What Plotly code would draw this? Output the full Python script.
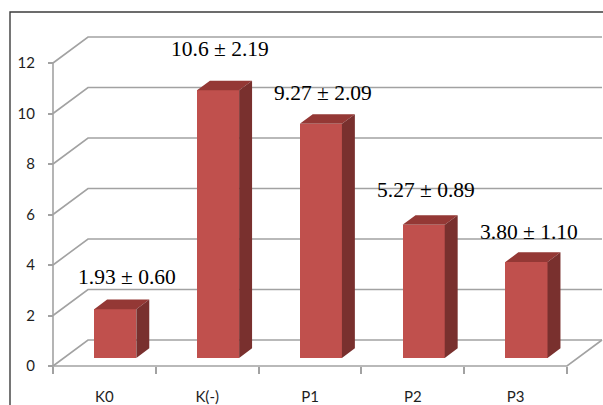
import plotly.graph_objects as go

# ---- data -------------------------------------------------------------
groups = ["K0", "K(-)", "P1", "P2", "P3"]
mean_text = ["1.93", "10.6", "9.27", "5.27", "3.80"]
sd_text = ["0.60", "2.19", "2.09", "0.89", "1.10"]
means = [float(m) for m in mean_text]
y_ticks = [0, 2, 4, 6, 8, 10, 12]

# ---- geometry (pixels) ------------------------------------------------
W, H = 603, 405
L, R, T, B = 40, 603, 12, 380        # plotting area edges
X0_PX, X_SCALE = 53, 102.8           # px of the first category boundary, px per category
Y0_PX, Y_SCALE = 366, 25.25          # px of value 0, px per unit


def px_to_x(px):
    return (px - X0_PX) / X_SCALE


def py_to_y(py):
    return (Y0_PX - py) / Y_SCALE


DX = 35 / X_SCALE     # depth of the floor, x units
DY = 26 / Y_SCALE     # depth of the floor, y units
F0 = 0.31             # bar front position within the depth
FD = 0.37             # bar depth as a fraction of the floor depth
BW = 0.41             # bar width, category units

FRONT = "#C0504D"
TOP = "#943835"
SIDE = "#79302E"
GRID = "#a2a2a2"

# label nudges (px) relative to the back top edge of each bar
label_dx = [23, 13, 13, 13, 13]
label_dy = [22.6, 31.7, 21.3, 25.3, 20.4]

n = len(groups)
centers = [i + 0.5 for i in range(n)]
base = F0 * DY
bar_x = [c + F0 * DX for c in centers]

fig = go.Figure()

# front faces
fig.add_trace(go.Bar(
    x=bar_x, y=means, base=base, width=BW,
    marker=dict(color=FRONT, line=dict(width=0)),
    hoverinfo="skip", showlegend=False,
))

# top and side faces
tx, ty, sx, sy = [], [], [], []
for xc, v in zip(bar_x, means):
    xl, xr = xc - BW / 2, xc + BW / 2
    yt = base + v
    ddx, ddy = FD * DX, FD * DY
    tx += [xl, xr, xr + ddx, xl + ddx, xl, None]
    ty += [yt, yt, yt + ddy, yt + ddy, yt, None]
    sx += [xr, xr + ddx, xr + ddx, xr, xr, None]
    sy += [base, base + ddy, yt + ddy, yt, base, None]

fig.add_trace(go.Scatter(x=tx, y=ty, mode="lines", fill="toself", fillcolor=TOP,
                         line=dict(width=0, color=TOP), hoverinfo="skip", showlegend=False))
fig.add_trace(go.Scatter(x=sx, y=sy, mode="lines", fill="toself", fillcolor=SIDE,
                         line=dict(width=0, color=SIDE), hoverinfo="skip", showlegend=False))

# walls, floor and value axis
shapes = []
for v in y_ticks:
    shapes.append(dict(type="path", xref="x", yref="y", layer="below",
                       path=f"M 0,{v} L {DX},{v + DY} L {n + DX},{v + DY}",
                       line=dict(color=GRID, width=1.6)))
shapes.append(dict(type="path", xref="x", yref="y", layer="below",
                   path=f"M 0,0 L {n},0 L {n + DX},{DY}",
                   line=dict(color=GRID, width=1.6)))
shapes.append(dict(type="line", xref="x", yref="y", layer="below",
                   x0=0, x1=0, y0=0, y1=max(y_ticks),
                   line=dict(color=GRID, width=1.6)))
# chart frame
shapes.append(dict(type="rect", xref="paper", yref="paper",
                   x0=(10 - L) / (R - L), x1=1.2, y0=-0.3, y1=1.0,
                   line=dict(color="#3c3c3c", width=1.4)))

annotations = []
for i, c in enumerate(centers):
    annotations.append(dict(
        x=c, y=means[i] + base + FD * DY, xref="x", yref="y",
        text=f"{mean_text[i]} \u00b1 {sd_text[i]}",
        showarrow=False, xanchor="center", yanchor="middle",
        xshift=label_dx[i], yshift=label_dy[i],
        font=dict(family="Liberation Serif", size=21.5, color="#000000"),
    ))

tick_font = dict(family="Lato", size=15, color="#1e1e1e")

fig.update_layout(
    width=W, height=H, autosize=False,
    margin=dict(l=L, r=W - R, t=T, b=H - B, pad=0),
    paper_bgcolor="white", plot_bgcolor="white",
    shapes=shapes, annotations=annotations,
    bargap=0, showlegend=False,
    xaxis=dict(
        range=[px_to_x(L), px_to_x(R)], anchor="free",
        position=(B - Y0_PX) / (B - T),
        tickmode="array", tickvals=centers, ticktext=groups,
        ticks="", showgrid=False, zeroline=False, showline=False,
        tickfont=tick_font, ticklabelstandoff=20,
        minor=dict(tickmode="array", tickvals=list(range(n + 1)), ticks="outside",
                   ticklen=7, tickwidth=1.5, tickcolor=GRID, showgrid=False),
        fixedrange=True,
    ),
    yaxis=dict(
        range=[py_to_y(B), py_to_y(T)], anchor="free",
        position=(X0_PX - L) / (R - L),
        tickmode="array", tickvals=y_ticks,
        ticks="outside", ticklen=5, tickwidth=1.5, tickcolor=GRID,
        showgrid=False, zeroline=False, showline=False,
        tickfont=tick_font, ticklabelstandoff=10,
        fixedrange=True,
    ),
)

fig.write_html("out.html")
